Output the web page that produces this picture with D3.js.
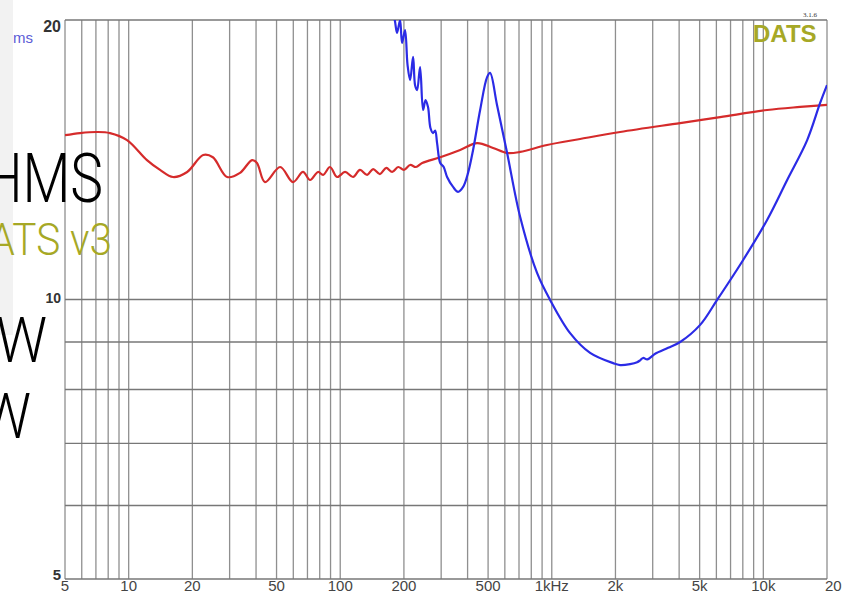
<!DOCTYPE html>
<html><head><meta charset="utf-8">
<script src="https://cdn.jsdelivr.net/npm/d3@7"></script>
<style>html,body{margin:0;padding:0;background:#fff;overflow:hidden}svg{display:block}</style>
</head><body>
<script>
// ---- data ----
const freqRed = [5,5.89,7.08,8.16,9.82,12.2,14.07,16.2,18.9,22.5,25.0,29.2,33.6,38.3,40.4,44.1,52,59.8,66.7,72,78.6,83,89.5,96.6,105.4,115,124,134,143,154,165,176,188,200,214,228,244,297,369,444,528,615,709,950,1361,2104,4045,6250,10420,14930,20000];
const ohmRed  = [15.03,15.11,15.15,15.11,14.85,14.13,13.79,13.55,13.72,14.31,14.23,13.55,13.69,14.13,14.03,13.38,13.89,13.38,13.72,13.45,13.72,13.62,13.89,13.55,13.72,13.55,13.79,13.62,13.82,13.65,13.86,13.72,13.89,13.79,13.96,13.89,14.03,14.23,14.49,14.74,14.56,14.38,14.42,14.67,14.89,15.15,15.49,15.72,16.0,16.12,16.2];
const freqBlue = [176,181,185.6,191.8,196,202.5,208,213.9,221,226,230.9,238.5,246.4,253,260,267,274.7,281,287,297,308,320,341.6,360.6,381,402,424.6,458.5,494.6,511,551,615,709,852,982,1221,1518,1950,2104,2344,2532,2616,2703,2830,3081,3549,4045,5028,6048,8030,10420,12965,16120,18560,20000];
const ohmBlue  = [20.4,20.0,19.37,20.0,18.89,19.51,17.9,17.23,18.25,17.0,16.81,17.8,16.0,16.4,16.12,15.3,15.11,15.2,14.74,14.03,13.9,13.55,13.22,13.06,13.22,13.69,14.49,16.0,17.36,17.54,16.2,14.38,12.27,10.68,9.99,9.20,8.76,8.54,8.50,8.52,8.56,8.60,8.65,8.62,8.74,8.87,9.00,9.39,9.99,11.03,12.18,13.45,14.85,16.28,17.02];
const xGrid = [5,6,7,8,9,10,20,30,40,50,60,70,80,90,100,200,300,400,500,600,700,800,900,1000,2000,3000,4000,5000,6000,7000,8000,9000,10000,20000];
const xTickVals = [5,10,20,50,100,200,500,1000,2000,5000,10000];
const xTickLabels = ["5","10","20","50","100","200","500","1kHz","2k","5k","10k"];
const yGrid = [5,6,7,8,9,10,20];
const yTickVals = [20,10,5];

const W = 843, H = 594;
const svg = d3.select("body").append("svg").attr("width", W).attr("height", H);
const x = d3.scaleLog().domain([5, 20000]).range([65, 827]);
const y = d3.scaleLog().domain([5, 20]).range([579, 20]);

// grid
svg.append("g").selectAll("line").data(xGrid).join("line")
  .attr("x1", d => x(d)).attr("x2", d => x(d)).attr("y1", 20).attr("y2", 579)
  .attr("stroke", "#8f8f8f").attr("stroke-width", 1.3);
svg.append("g").selectAll("line").data(yGrid).join("line")
  .attr("x1", 65).attr("x2", 827).attr("y1", d => y(d)).attr("y2", d => y(d))
  .attr("stroke", "#777").attr("stroke-width", 1.3);

// tick labels
svg.append("g").selectAll("text").data(xTickVals).join("text")
  .attr("x", d => x(d)).attr("y", 591).attr("text-anchor", "middle")
  .attr("font-family", "Liberation Sans, Arial, sans-serif").attr("font-size", 15).attr("fill", "#444")
  .text((d, i) => xTickLabels[i]);
svg.append("text").attr("x", 825).attr("y", 591).attr("text-anchor", "start")
  .attr("font-family", "Liberation Sans, Arial, sans-serif").attr("font-size", 15).attr("fill", "#444").text("20");
const ySizes = [16, 14, 15];
const yBase = [32, 303, 580];
svg.append("g").selectAll("text").data(yTickVals).join("text")
  .attr("x", 61).attr("y", (d, i) => yBase[i]).attr("text-anchor", "end")
  .attr("font-family", "Liberation Sans, Arial, sans-serif").attr("font-weight", "bold")
  .attr("font-size", (d, i) => ySizes[i]).attr("fill", "#333").text(d => d);

// curves
svg.append("clipPath").attr("id", "clip").append("rect").attr("x", 65).attr("y", 20).attr("width", 762).attr("height", 559);
const line = d3.line().curve(d3.curveCatmullRom.alpha(0.5));
const redPts = freqRed.map((f, i) => [x(f), y(ohmRed[i])]);
const bluePts = freqBlue.map((f, i) => [x(f), y(ohmBlue[i])]);
svg.append("path").attr("clip-path", "url(#clip)").attr("d", line(redPts))
  .attr("fill", "none").attr("stroke", "#d52b2b").attr("stroke-width", 2.2);
svg.append("path").attr("clip-path", "url(#clip)").attr("d", line(bluePts))
  .attr("fill", "none").attr("stroke", "#2b2be6").attr("stroke-width", 2.2);

// top-right labels
svg.append("text").attr("x", 753).attr("y", 42).attr("font-family", "Liberation Sans, Arial, sans-serif")
  .attr("font-weight", "bold").attr("font-size", 24).attr("fill", "#a6a826").text("DATS");
svg.append("text").attr("x", 803).attr("y", 17).attr("font-family", "Liberation Serif, serif")
  .attr("font-size", 7).attr("fill", "#333").text("3.1.6");

// axis unit label
svg.append("text").attr("x", 33).attr("y", 43).attr("text-anchor", "end")
  .attr("font-family", "Liberation Sans, Arial, sans-serif").attr("font-size", 15).attr("fill", "#5c5cd6").text("Ohms");

// overlay panel
svg.append("rect").attr("x", 0).attr("y", 0).attr("width", 13).attr("height", 335).attr("fill", "#f2f2f2");

function bigText(txt, xr, yb, size, sx, color) {
  svg.append("text").attr("transform", `translate(${xr},${yb}) scale(${sx},1)`)
    .attr("text-anchor", "end").attr("font-family", "Roboto, sans-serif").attr("font-weight", 300)
    .attr("font-size", size).attr("fill", color).text(txt);
}
bigText("OHMS", 103, 202, 69, 0.8, "#000");
bigText("DATS v3", 112, 255, 45, 0.9, "#a6a826");
bigText("W", 47, 362, 63, 0.9, "#000");
bigText("W", 31, 438, 63, 0.9, "#000");
</script>
</body></html>
